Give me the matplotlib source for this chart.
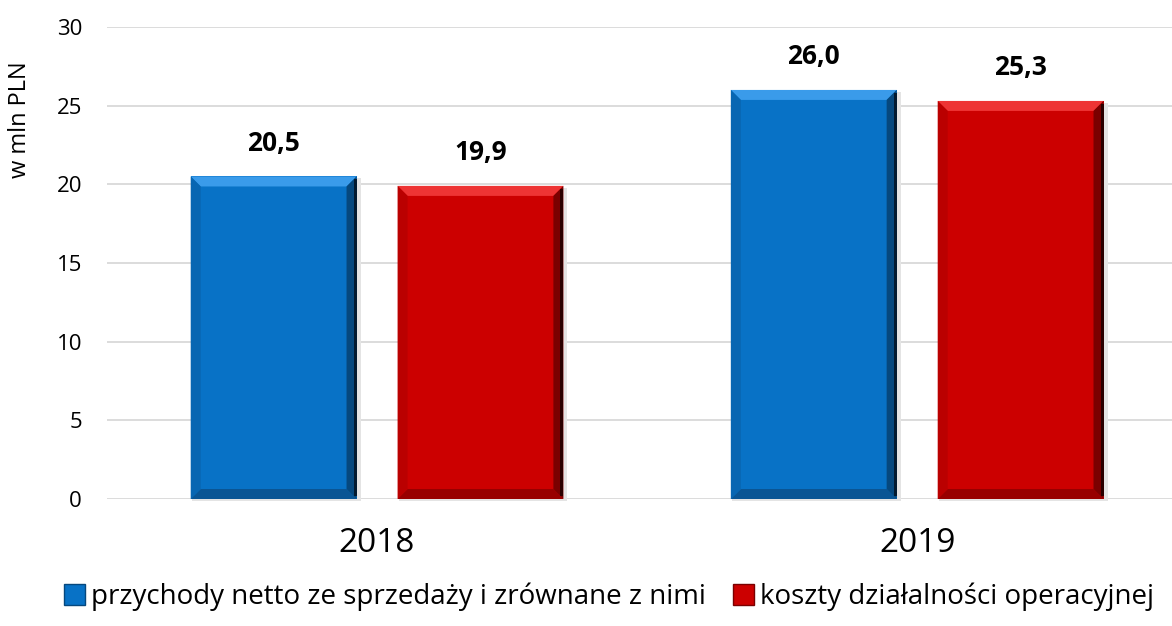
import matplotlib
matplotlib.use("Agg")
import matplotlib.pyplot as plt
from matplotlib.patches import Polygon, Rectangle, Patch
import numpy as np

years = ["2018", "2019"]
revenue = [20.5, 26.0]
costs = [19.9, 25.3]
series_names = ["przychody netto ze sprzedaży i zrównane z nimi",
                "koszty działalności operacyjnej"]
y_ticks = [0, 5, 10, 15, 20, 25, 30]

plt.rcParams['font.family'] = ['Open Sans', 'DejaVu Sans']

W, H = 1172, 626
fig = plt.figure(figsize=(W / 100, H / 100), dpi=100)
ax_left, ax_bottom, ax_top = 107, 499, 27
ax = fig.add_axes([ax_left / W, (H - ax_bottom) / H, 1 - ax_left / W, (ax_bottom - ax_top) / H])

x = np.arange(len(years))
width = 0.307
offset = 0.1915
xlim = (-0.5, 1.4718)
ylim = (0, 30)
ax.set_xlim(*xlim)
ax.set_ylim(*ylim)

# data units per pixel, for bevel sizes
px_x = (xlim[1] - xlim[0]) / (W - ax_left)
px_y = (ylim[1] - ylim[0]) / (ax_bottom - ax_top)

styles = [
    # main, top, bottom, left, right, edge
    dict(main="#0872C6", top="#3A9BEA", bottom="#0A5594", left="#0866B2", right="#06487E", edge="#021A30"),
    dict(main="#CC0000", top="#EE3434", bottom="#980000", left="#BA0000", right="#7A0000", edge="#2A0000"),
]

def bevel_bar(ax, patch, st, b=10):
    x0, y0 = patch.get_x(), patch.get_y()
    x1, y1 = x0 + patch.get_width(), y0 + patch.get_height()
    bx, by = b * px_x, b * px_y
    # soft shadow
    ax.add_patch(Rectangle((x0 + 1 * px_x, y0 - 2 * px_y), x1 - x0 + 3 * px_x, y1 - y0,
                           facecolor="#e4e4e4", edgecolor="none", zorder=2, clip_on=False))
    ax.add_patch(Polygon([(x0, y1), (x1, y1), (x1 - bx, y1 - by), (x0 + bx, y1 - by)],
                         closed=True, facecolor=st["top"], edgecolor="none", zorder=4))
    ax.add_patch(Polygon([(x0, y0), (x1, y0), (x1 - bx, y0 + by), (x0 + bx, y0 + by)],
                         closed=True, facecolor=st["bottom"], edgecolor="none", zorder=4))
    ax.add_patch(Polygon([(x0, y0), (x0 + bx, y0 + by), (x0 + bx, y1 - by), (x0, y1)],
                         closed=True, facecolor=st["left"], edgecolor="none", zorder=4))
    ax.add_patch(Polygon([(x1, y0), (x1 - bx, y0 + by), (x1 - bx, y1 - by), (x1, y1)],
                         closed=True, facecolor=st["right"], edgecolor="none", zorder=4))
    ax.add_patch(Rectangle((x1 - 3 * px_x, y0 + 3 * px_y), 3 * px_x, y1 - y0 - 6 * px_y,
                           facecolor=st["edge"], edgecolor="none", zorder=5))

for vals, sign, st in [(revenue, -1, styles[0]), (costs, 1, styles[1])]:
    bars = ax.bar(x + sign * offset, vals, width, color=st["main"], zorder=3)
    for p, v in zip(bars, vals):
        bevel_bar(ax, p, st)
        ax.text(p.get_x() + p.get_width() / 2, v + 2.1, f"{v:.1f}".replace(".", ","),
                ha="center", va="center", fontsize=19, fontweight="bold", color="black")

ax.set_yticks(y_ticks)
ax.set_yticklabels([str(t) for t in y_ticks], fontsize=16)
ax.set_xticks(x)
ax.set_xticklabels(years, fontsize=24)
ax.tick_params(axis="y", length=0, pad=18)
ax.tick_params(axis="x", length=0, pad=20)
ax.grid(axis="y", color="#d9d9d9", linewidth=1.3, zorder=0)
ax.set_axisbelow(True)
for s in ax.spines.values():
    s.set_visible(False)

fig.text(20 / W, (H - 120) / H, "w mln PLN", rotation=90, ha="center", va="center", fontsize=17)

handles = [Patch(facecolor=styles[0]["main"], edgecolor=styles[0]["right"]),
           Patch(facecolor=styles[1]["main"], edgecolor=styles[1]["right"])]
fig.legend(handles, series_names, loc="center", bbox_to_anchor=(609 / W, (H - 597) / H),
           ncol=2, frameon=False, fontsize=20, handlelength=0.75, handleheight=0.75,
           handletextpad=0.2, columnspacing=1.0)

fig.savefig("out.png", dpi=100)
